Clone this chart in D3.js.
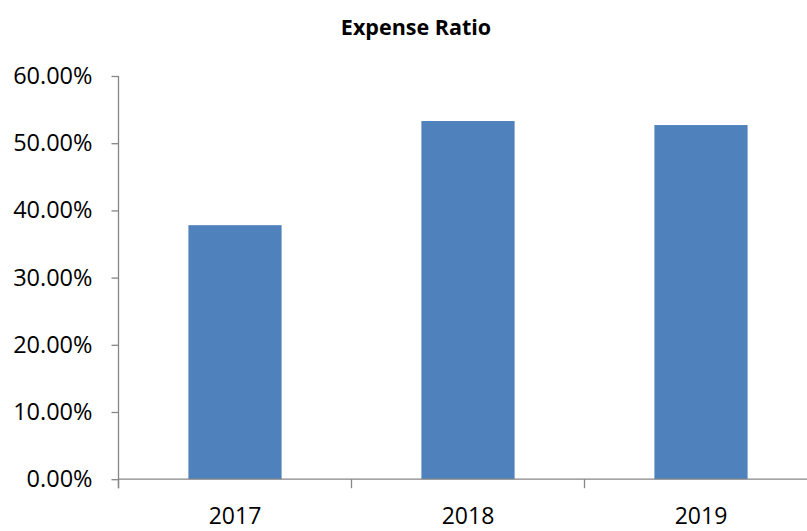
<!DOCTYPE html>
<html>
<head>
<meta charset="utf-8">
<script src="https://cdn.jsdelivr.net/npm/d3@7"></script>
<style>
  body { margin: 0; background: #fff; }
  svg text { font-family: "Open Sans", "Liberation Sans", sans-serif; fill: #000; }
  .axis path, .axis line { stroke: #868686; stroke-width: 1.3; }
</style>
</head>
<body>
<script>
// chart data
var years = ["2017", "2018", "2019"];
var expenseRatio = [0.378, 0.533, 0.527];
var yTicks = [0, 0.1, 0.2, 0.3, 0.4, 0.5, 0.6];

var width = 807, height = 531;
var plotLeft = 118.5, plotBottom = 479.2, plotTop = 76, plotRight = 817.5;

var svg = d3.select("body").append("svg")
  .attr("width", width)
  .attr("height", height);

var x = d3.scaleBand().domain(years).range([plotLeft, plotRight]).padding(0);
var y = d3.scaleLinear().domain([0, 0.6]).range([plotBottom, plotTop]);

// title
svg.append("text")
  .attr("x", 416)
  .attr("y", 35)
  .attr("text-anchor", "middle")
  .style("font-weight", "bold")
  .style("font-size", "21.5px")
  .text("Expense Ratio");

// bars
var barW = x.bandwidth() * 0.4;
svg.selectAll("rect.bar")
  .data(years)
  .enter()
  .append("rect")
  .attr("class", "bar")
  .attr("x", function(d) { return x(d) + (x.bandwidth() - barW) / 2; })
  .attr("y", function(d, i) { return y(expenseRatio[i]); })
  .attr("width", barW)
  .attr("height", function(d, i) { return plotBottom - y(expenseRatio[i]); })
  .attr("fill", "#4F81BD");

// y axis
var yAxis = svg.append("g")
  .attr("class", "axis")
  .attr("transform", "translate(" + plotLeft + ",0)")
  .call(d3.axisLeft(y).tickValues(yTicks).tickSize(7).tickSizeOuter(0).tickPadding(19)
    .tickFormat(function(d) { return (d * 100).toFixed(2) + "%"; }));
yAxis.selectAll("text").style("font-size", "23.5px");
yAxis.select(".domain").attr("d", "M0," + plotTop + "V" + (plotBottom + 9));

// x axis
var xAxis = svg.append("g")
  .attr("class", "axis")
  .attr("transform", "translate(0," + plotBottom + ")");
xAxis.append("line")
  .attr("x1", plotLeft).attr("x2", plotRight)
  .attr("stroke", "#868686");
xAxis.selectAll("line.tk")
  .data(years.concat(["end"]))
  .enter()
  .append("line")
  .attr("class", "tk")
  .attr("x1", function(d, i) { return plotLeft + i * x.bandwidth(); })
  .attr("x2", function(d, i) { return plotLeft + i * x.bandwidth(); })
  .attr("y1", 0).attr("y2", 9)
  .attr("stroke", "#868686");
xAxis.selectAll("text")
  .data(years)
  .enter()
  .append("text")
  .attr("x", function(d) { return x(d) + x.bandwidth() / 2; })
  .attr("y", 45)
  .attr("text-anchor", "middle")
  .style("font-size", "23px")
  .text(function(d) { return d; });
</script>
</body>
</html>
